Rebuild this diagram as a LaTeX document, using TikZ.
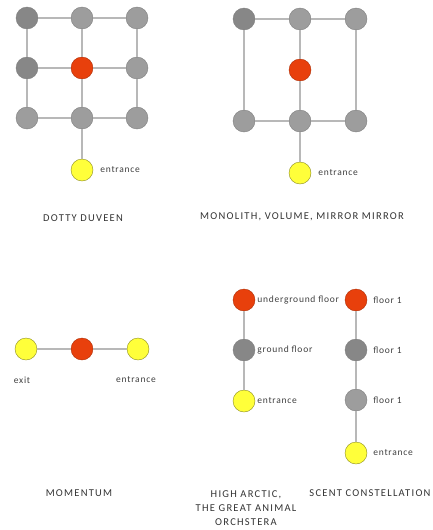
\documentclass[tikz,border=0pt]{standalone}
\usepackage{fontspec}
\setmainfont{Carlito}
\newfontfamily\roomfont[LetterSpace=8]{Carlito}
\newfontfamily\titlefont[LetterSpace=12]{Carlito}
\usepackage{xcolor}
\usepackage{tikz}
\usetikzlibrary{positioning}

\definecolor{roomgrey}{HTML}{9D9D9D}
\definecolor{roomdark}{HTML}{878787}
\definecolor{roomred}{HTML}{E8400C}
\definecolor{dooryellow}{HTML}{FFFF3A}

\begin{document}
\begin{tikzpicture}[x=1pt,y=1pt,on grid,node distance=50pt and 55pt]
		\tikzstyle{room}=[circle,draw=black!50,fill=roomgrey,minimum size=22pt,inner sep=0pt]
		\tikzstyle{room_dark}=[room,fill=roomdark]
		\tikzstyle{room_main}=[room,draw=roomred!75!black,fill=roomred]
		\tikzstyle{door}=[room,draw=dooryellow!55!black,fill=dooryellow]
		\tikzstyle{corridor}=[draw=black!28,line width=1.5pt]
		\tikzstyle{room_text}=[font=\roomfont\fontsize{9.5}{11}\selectfont,text=black!75,inner sep=1pt]
		\tikzstyle{title}=[font=\titlefont\fontsize{10.5}{14}\selectfont,text=black!80,align=center]

		\useasboundingbox (0,0) rectangle (432,-530);

		% dotty duveen
		\begin{scope}[shift={(27,-18)}]
			\node [room_dark] (D-11) {};
			\node [room] (D-12) [right=of D-11] {};
			\node [room] (D-13) [right=of D-12] {};
			\node [room_dark] (D-21) [below=of D-11] {};
			\node [room_main] (D-22) [right=of D-21] {};
			\node [room] (D-23) [right=of D-22] {};
			\node [room] (D-31) [below=of D-21] {};
			\node [room] (D-32) [right=of D-31] {};
			\node [room] (D-33) [right=of D-32] {};
			\node [door] (D-in) [below=52pt of D-32] {};

			\draw [corridor] (D-11) -- (D-12) -- (D-13) -- (D-23) -- (D-33) -- (D-32) -- (D-31) -- (D-21) -- (D-11);
			\draw [corridor] (D-12) -- (D-22) -- (D-32) -- (D-in);
			\draw [corridor] (D-21) -- (D-22) -- (D-23);

			\node at (D-in.east) [room_text,anchor=west,xshift=6pt] {entrance};
		\end{scope}

		% monolith
		\begin{scope}[shift={(244,-19)},node distance=51pt and 56pt]
			\node [room_dark] (M-11) {};
			\node [room] (M-12) [right=of M-11] {};
			\node [room] (M-13) [right=of M-12] {};
			\node [room_main] (M-22) [below=of M-12] {};
			\node [room] (M-32) [below=of M-22] {};
			\node [room] (M-31) [left=of M-32] {};
			\node [room] (M-33) [right=of M-32] {};
			\node [door] (M-in) [below=52pt of M-32] {};

			\draw [corridor] (M-11) -- (M-12) -- (M-13) -- (M-33) -- (M-32) -- (M-31) -- (M-11);
			\draw [corridor] (M-12) -- (M-22) -- (M-32) -- (M-in);

			\node at (M-in.east) [room_text,anchor=west,xshift=6pt] {entrance};
		\end{scope}

		% momentum
		\begin{scope}[shift={(26,-349)},node distance=50pt and 56pt]
			\node [door] (P-out) {};
			\node [room_main] (P-1) [right=of P-out] {};
			\node [door] (P-in) [right=of P-1] {};

			\draw [corridor] (P-out) -- (P-1) -- (P-in);

			\node [room_text,below=31pt of P-out,xshift=-4pt] {exit};
			\node [room_text,below=31pt of P-in,xshift=-2pt] {entrance};
		\end{scope}

		% high arctic
		\begin{scope}[shift={(244,-300)}]
			\node [room_main] (H-1) {};
			\node [room_dark] (H-2) [below=of H-1] {};
			\node [door] (H-in) [below=51pt of H-2] {};

			\draw [corridor] (H-1) -- (H-2) -- (H-in);

			\node at (H-1.east) [room_text,anchor=west,xshift=1pt] {underground floor};
			\node at (H-2.east) [room_text,anchor=west,xshift=1pt] {ground floor};
			\node at (H-in.east) [room_text,anchor=west,xshift=1pt] {entrance};
		\end{scope}

		% scent constellation
		\begin{scope}[shift={(356,-300)}]
			\node [room_main] (S-1) {};
			\node [room_dark] (S-2) [below=of S-1] {};
			\node [room] (S-3) [below=of S-2] {};
			\node [door] (S-in) [below=53pt of S-3] {};

			\draw [corridor] (S-1) -- (S-2) -- (S-3) -- (S-in);

			\node at (S-1.east) [room_text,anchor=west,xshift=5pt] {floor 1};
			\node at (S-2.east) [room_text,anchor=west,xshift=5pt] {floor 1};
			\node at (S-3.east) [room_text,anchor=west,xshift=5pt] {floor 1};
			\node at (S-in.east) [room_text,anchor=west,xshift=5pt] {entrance};
		\end{scope}

		\node [title] (t-dotty) at (83,-218) {DOTTY DUVEEN};
		\node [title] (t-monolith) at (302,-217) {MONOLITH, VOLUME, MIRROR MIRROR};
		\node [title] (t-momentum) at (79,-493) {MOMENTUM};
		\node [title] (t-arctic) at (246,-508) {HIGH ARCTIC,\\THE GREAT ANIMAL\\ORCHSTERA};
		\node [title] (t-scent) at (370,-493) {SCENT CONSTELLATION};
	\end{tikzpicture}
\end{document}
